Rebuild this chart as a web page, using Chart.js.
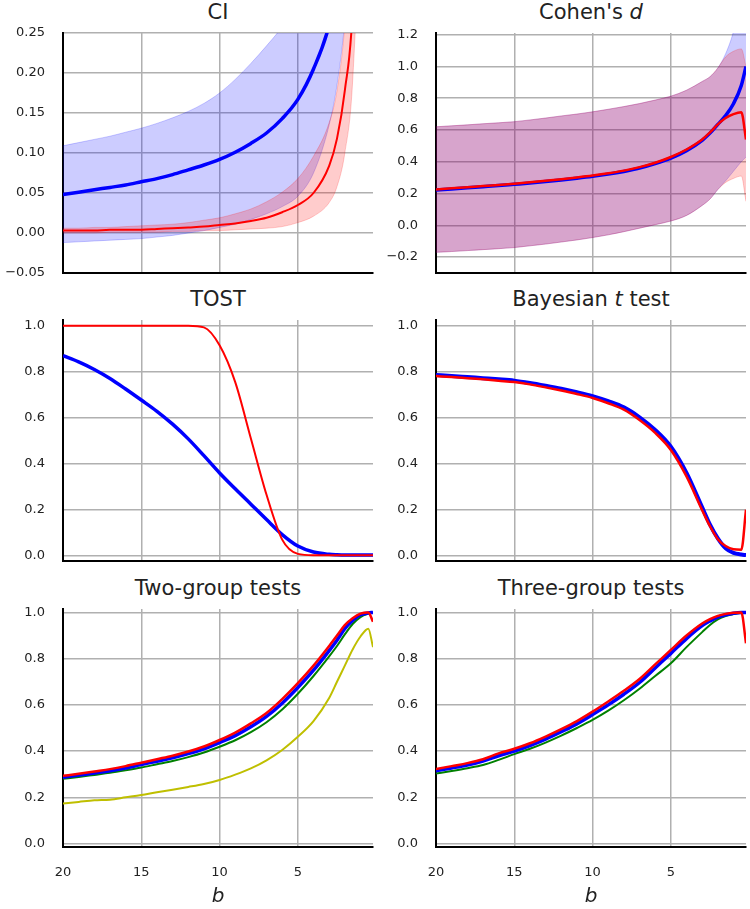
<!DOCTYPE html>
<html>
<head>
<meta charset="utf-8">
<script src="https://cdn.jsdelivr.net/npm/chart.js@4.4.0/dist/chart.umd.min.js"></script>
<style>
    body { margin: 0; background: #fff; width: 750px; height: 909px; position: relative; overflow: hidden; font-family: 'DejaVu Sans', sans-serif; }
    canvas { position: absolute; }
    .panel-title { position: absolute; font-size: 21px; line-height: 24px; text-align: center; color: #222; white-space: nowrap; }
</style>
</head>
<body>

<div class="panel-title" style="left:63px; width:310px; top:0px;">CI</div>
<div class="panel-title" style="left:436px; width:310px; top:0px;">Cohen's <i>d</i></div>
<div class="panel-title" style="left:63px; width:310px; top:287px;">TOST</div>
<div class="panel-title" style="left:436px; width:310px; top:287px;">Bayesian <i>t</i> test</div>
<div class="panel-title" style="left:63px; width:310px; top:576px;">Two-group tests</div>
<div class="panel-title" style="left:436px; width:310px; top:576px;">Three-group tests</div>

<canvas id="ciChart" style="left:0; top:0;" width="380" height="285"></canvas>
<canvas id="cohenChart" style="left:375px; top:0;" width="375" height="285"></canvas>
<canvas id="tostChart" style="left:0; top:285px;" width="380" height="285"></canvas>
<canvas id="bayesChart" style="left:375px; top:285px;" width="375" height="285"></canvas>
<canvas id="twoGroupChart" style="left:0; top:570px;" width="380" height="339"></canvas>
<canvas id="threeGroupChart" style="left:375px; top:570px;" width="375" height="339"></canvas>

<script>
// Shared b positions for every series (x axis runs from 20 down to ~0)
const bValues = [20, 19, 18, 17, 16, 15, 14, 13, 12, 11, 10, 9, 8, 7, 6, 5, 4, 3, 2.5, 2, 1.5, 1, 0.5, 0.2];

// Tick labels
const xTickValues = [20, 15, 10, 5];
const ciTicks = [-0.05, 0, 0.05, 0.1, 0.15, 0.2, 0.25];
const cohenTicks = [-0.2, 0, 0.2, 0.4, 0.6, 0.8, 1.0, 1.2];
const probTicks = [0, 0.2, 0.4, 0.6, 0.8, 1.0];

// CI panel
const ciBlue      = [0.048, 0.051, 0.054, 0.057, 0.060, 0.064, 0.068, 0.073, 0.079, 0.085, 0.092, 0.101, 0.112, 0.125, 0.143, 0.167, 0.205, 0.26, 0.31, 0.39, 0.52, 0.75, 1.3, 2.5];
const ciBlueUpper = [0.109, 0.113, 0.117, 0.121, 0.126, 0.131, 0.137, 0.144, 0.152, 0.162, 0.175, 0.192, 0.212, 0.234, 0.258, 0.29, 0.34, 0.42, 0.48, 0.57, 0.72, 1.0, 1.7, 3.0];
const ciBlueLower = [-0.012, -0.011, -0.010, -0.009, -0.008, -0.007, -0.005, -0.003, 0.000, 0.003, 0.007, 0.011, 0.017, 0.024, 0.033, 0.046, 0.075, 0.135, 0.185, 0.265, 0.4, 0.65, 1.2, 2.2];
const ciRed       = [0.003, 0.003, 0.003, 0.004, 0.004, 0.004, 0.005, 0.006, 0.007, 0.008, 0.010, 0.012, 0.015, 0.019, 0.026, 0.035, 0.050, 0.084, 0.118, 0.178, 0.28, 0.6, 1.3, 2.5];
const ciRedUpper  = [0.006, 0.006, 0.007, 0.007, 0.008, 0.009, 0.010, 0.011, 0.013, 0.016, 0.019, 0.024, 0.030, 0.039, 0.051, 0.068, 0.096, 0.138, 0.178, 0.26, 0.42, 0.8, 1.6, 3.0];
const ciRedLower  = [0.000, 0.000, 0.000, 0.001, 0.001, 0.001, 0.001, 0.002, 0.002, 0.003, 0.003, 0.004, 0.005, 0.006, 0.008, 0.013, 0.021, 0.038, 0.058, 0.10, 0.19, 0.45, 1.0, 2.0];

// Cohen's d panel
const cohenBlue      = [0.222, 0.229, 0.236, 0.243, 0.250, 0.258, 0.266, 0.275, 0.285, 0.296, 0.308, 0.322, 0.339, 0.36, 0.388, 0.423, 0.47, 0.535, 0.58, 0.635, 0.69, 0.765, 0.88, 1.0];
const cohenBlueUpper = [0.62, 0.626, 0.632, 0.639, 0.645, 0.652, 0.663, 0.675, 0.688, 0.70, 0.714, 0.73, 0.747, 0.766, 0.788, 0.8125, 0.85, 0.905, 0.935, 0.99, 1.08, 1.22, 1.45, 1.7];
const cohenBlueLower = [-0.17, -0.165, -0.159, -0.153, -0.147, -0.14, -0.129, -0.118, -0.105, -0.092, -0.077, -0.06, -0.04, -0.018, 0.004, 0.027, 0.062, 0.125, 0.165, 0.225, 0.28, 0.34, 0.40, 0.43];
const cohenRed       = [0.226, 0.233, 0.240, 0.247, 0.254, 0.262, 0.271, 0.280, 0.290, 0.301, 0.313, 0.327, 0.344, 0.366, 0.394, 0.43, 0.477, 0.54, 0.585, 0.635, 0.675, 0.70, 0.712, 0.54];
const cohenRedUpper  = [0.62, 0.626, 0.632, 0.639, 0.645, 0.652, 0.663, 0.675, 0.688, 0.70, 0.714, 0.73, 0.747, 0.766, 0.788, 0.8125, 0.85, 0.905, 0.935, 0.99, 1.06, 1.095, 1.11, 1.0];
const cohenRedLower  = [-0.17, -0.165, -0.159, -0.153, -0.147, -0.14, -0.129, -0.118, -0.105, -0.092, -0.077, -0.06, -0.04, -0.018, 0.004, 0.027, 0.062, 0.125, 0.165, 0.225, 0.27, 0.295, 0.31, 0.15];

// TOST panel
const tostBlue = [0.87, 0.843, 0.81, 0.771, 0.725, 0.677, 0.628, 0.572, 0.508, 0.435, 0.36, 0.291, 0.224, 0.157, 0.092, 0.042, 0.016, 0.006, 0.004, 0.003, 0.003, 0.003, 0.003, 0.003];
const tostRed  = [1.0, 1.0, 1.0, 1.0, 1.0, 1.0, 1.0, 1.0, 1.0, 0.993, 0.915, 0.755, 0.51, 0.265, 0.07, 0.008, 0.002, 0.002, 0.002, 0.002, 0.002, 0.002, 0.002, 0.002];

// Bayesian t test panel
const bayesBlue = [0.786, 0.782, 0.777, 0.772, 0.767, 0.761, 0.751, 0.739, 0.726, 0.711, 0.694, 0.672, 0.645, 0.602, 0.547, 0.474, 0.36, 0.21, 0.135, 0.075, 0.032, 0.012, 0.005, 0.003];
const bayesRed  = [0.781, 0.777, 0.772, 0.767, 0.761, 0.755, 0.745, 0.732, 0.718, 0.703, 0.686, 0.663, 0.635, 0.59, 0.534, 0.46, 0.345, 0.198, 0.128, 0.072, 0.042, 0.028, 0.026, 0.2];

// Two-group tests panel
const twoRed    = [0.293, 0.302, 0.312, 0.322, 0.335, 0.35, 0.365, 0.38, 0.398, 0.42, 0.448, 0.48, 0.52, 0.565, 0.625, 0.694, 0.77, 0.855, 0.9, 0.945, 0.975, 0.995, 1.0, 0.96];
const twoBlue   = [0.287, 0.296, 0.305, 0.315, 0.327, 0.342, 0.356, 0.371, 0.389, 0.41, 0.437, 0.467, 0.505, 0.55, 0.607, 0.675, 0.75, 0.835, 0.88, 0.93, 0.965, 0.99, 0.998, 1.0];
const twoGreen  = [0.28, 0.288, 0.297, 0.306, 0.317, 0.329, 0.343, 0.357, 0.374, 0.394, 0.419, 0.447, 0.482, 0.525, 0.58, 0.648, 0.725, 0.81, 0.855, 0.905, 0.95, 0.98, 0.995, 1.0];
const twoYellow = [0.173, 0.18, 0.187, 0.19, 0.2, 0.21, 0.222, 0.233, 0.245, 0.258, 0.275, 0.298, 0.325, 0.36, 0.405, 0.462, 0.53, 0.63, 0.70, 0.77, 0.84, 0.896, 0.93, 0.85];

// Three-group tests panel
const threeRed   = [0.322, 0.335, 0.348, 0.365, 0.39, 0.41, 0.434, 0.463, 0.495, 0.53, 0.571, 0.615, 0.661, 0.712, 0.775, 0.838, 0.9, 0.952, 0.971, 0.985, 0.994, 0.999, 1.0, 0.867];
const threeBlue  = [0.315, 0.327, 0.34, 0.357, 0.38, 0.40, 0.424, 0.452, 0.484, 0.518, 0.558, 0.6, 0.646, 0.697, 0.76, 0.823, 0.887, 0.943, 0.963, 0.98, 0.99, 0.997, 1.0, 1.0];
const threeGreen = [0.303, 0.314, 0.326, 0.34, 0.362, 0.387, 0.41, 0.437, 0.467, 0.5, 0.535, 0.575, 0.62, 0.67, 0.725, 0.78, 0.85, 0.915, 0.946, 0.97, 0.985, 0.993, 0.999, 1.0];

// Colours
const BLUE = '#0000ff';
const RED = '#ff0000';
const GREEN = '#008000';
const YELLOW = '#bfbf00';
const BLUE_FILL = 'rgba(0, 0, 255, 0.2)';
const RED_FILL = 'rgba(255, 0, 0, 0.2)';
const GRID = '#b0b0b0';
const TEXT = '#222';
const FONT = "'DejaVu Sans', sans-serif";

function toPoints(values) {
    return values.map((y, i) => ({ x: bValues[i], y: y }));
}

function line(values, color, width) {
    return { data: toPoints(values), borderColor: color, borderWidth: width, pointRadius: 0, fill: false };
}

// upper edge of a band, filled down to the dataset right after it
function band(values, fillColor) {
    return { data: toPoints(values), borderColor: fillColor, borderWidth: 1, backgroundColor: fillColor, pointRadius: 0, fill: '+1' };
}

function edge(values, fillColor) {
    return { data: toPoints(values), borderColor: fillColor, borderWidth: 1, pointRadius: 0, fill: false };
}

function formatTick(value, decimals) {
    return value.toFixed(decimals).replace('-', '\u2212');
}

// Chart.js draws dataset 0 last, so the list runs from top layer to bottom layer
function makePanel(id, cfg) {
    return new Chart(document.getElementById(id), {
        type: 'line',
        data: { datasets: cfg.datasets },
        options: {
            responsive: false,
            animation: false,
            events: [],
            layout: { padding: { top: cfg.padTop, right: cfg.padRight, left: 0, bottom: 0 } },
            elements: { line: { cubicInterpolationMode: 'monotone' } },
            datasets: { line: { clip: 0 } },
            plugins: {
                legend: { display: false },
                tooltip: { enabled: false }
            },
            scales: {
                x: {
                    type: 'linear',
                    reverse: true,
                    min: 0.2,
                    max: 20,
                    afterBuildTicks: scale => { scale.ticks = xTickValues.map(v => ({ value: v })); },
                    afterFit: scale => { scale.height = cfg.xAxisHeight; },
                    grid: { color: GRID, lineWidth: 1.5, drawTicks: false },
                    border: { color: '#000', width: 2 },
                    ticks: { display: cfg.showX, padding: 18, color: TEXT, maxRotation: 0, font: { family: FONT, size: 13 } },
                    title: {
                        display: cfg.showX,
                        text: 'b',
                        color: TEXT,
                        padding: 0,
                        font: { family: FONT, size: 20, style: 'italic' }
                    }
                },
                y: {
                    min: cfg.yMin,
                    max: cfg.yMax,
                    afterBuildTicks: scale => { scale.ticks = cfg.yTicks.map(v => ({ value: v })); },
                    afterFit: scale => { scale.width = cfg.yAxisWidth; },
                    // invisible tick marks keep the labels off the spine without padding the plot vertically
                    grid: { color: GRID, lineWidth: 1.5, drawTicks: true, tickLength: 18, tickColor: 'rgba(0,0,0,0)' },
                    border: { color: '#000', width: 2 },
                    ticks: {
                        padding: 0,
                        color: TEXT,
                        font: { family: FONT, size: 13 },
                        callback: value => formatTick(value, cfg.decimals)
                    }
                }
            }
        }
    });
}

const leftCol = { yAxisWidth: 63, padRight: 7 };
const rightCol = { yAxisWidth: 61, padRight: 4 };
const topRow = { padTop: 33, xAxisHeight: 12, showX: false };
const midRow = { padTop: 35, xAxisHeight: 9, showX: false };
const bottomRow = { padTop: 39, xAxisHeight: 62, showX: true };

makePanel('ciChart', Object.assign({}, leftCol, topRow, {
    yMin: -0.05, yMax: 0.25, yTicks: ciTicks, decimals: 2,
    datasets: [
        line(ciRed, RED, 2),
        band(ciRedUpper, RED_FILL),
        edge(ciRedLower, RED_FILL),
        line(ciBlue, BLUE, 3.5),
        band(ciBlueUpper, BLUE_FILL),
        edge(ciBlueLower, BLUE_FILL)
    ]
}));

makePanel('cohenChart', Object.assign({}, rightCol, topRow, {
    yMin: -0.3, yMax: 1.21, yTicks: cohenTicks, decimals: 1,
    datasets: [
        line(cohenRed, RED, 2.5),
        line(cohenBlue, BLUE, 3.5),
        band(cohenRedUpper, RED_FILL),
        edge(cohenRedLower, RED_FILL),
        band(cohenBlueUpper, BLUE_FILL),
        edge(cohenBlueLower, BLUE_FILL)
    ]
}));

makePanel('tostChart', Object.assign({}, leftCol, midRow, {
    yMin: -0.023, yMax: 1.025, yTicks: probTicks, decimals: 1,
    datasets: [
        line(tostRed, RED, 2),
        line(tostBlue, BLUE, 3.5)
    ]
}));

makePanel('bayesChart', Object.assign({}, rightCol, midRow, {
    yMin: -0.023, yMax: 1.025, yTicks: probTicks, decimals: 1,
    datasets: [
        line(bayesRed, RED, 2.5),
        line(bayesBlue, BLUE, 4)
    ]
}));

makePanel('twoGroupChart', Object.assign({}, leftCol, bottomRow, {
    yMin: -0.015, yMax: 1.015, yTicks: probTicks, decimals: 1,
    datasets: [
        line(twoRed, RED, 2.5),
        line(twoBlue, BLUE, 3.5),
        line(twoGreen, GREEN, 2),
        line(twoYellow, YELLOW, 2)
    ]
}));

makePanel('threeGroupChart', Object.assign({}, rightCol, bottomRow, {
    yMin: -0.015, yMax: 1.015, yTicks: probTicks, decimals: 1,
    datasets: [
        line(threeRed, RED, 2.5),
        line(threeBlue, BLUE, 3.5),
        line(threeGreen, GREEN, 2)
    ]
}));
</script>
</body>
</html>
